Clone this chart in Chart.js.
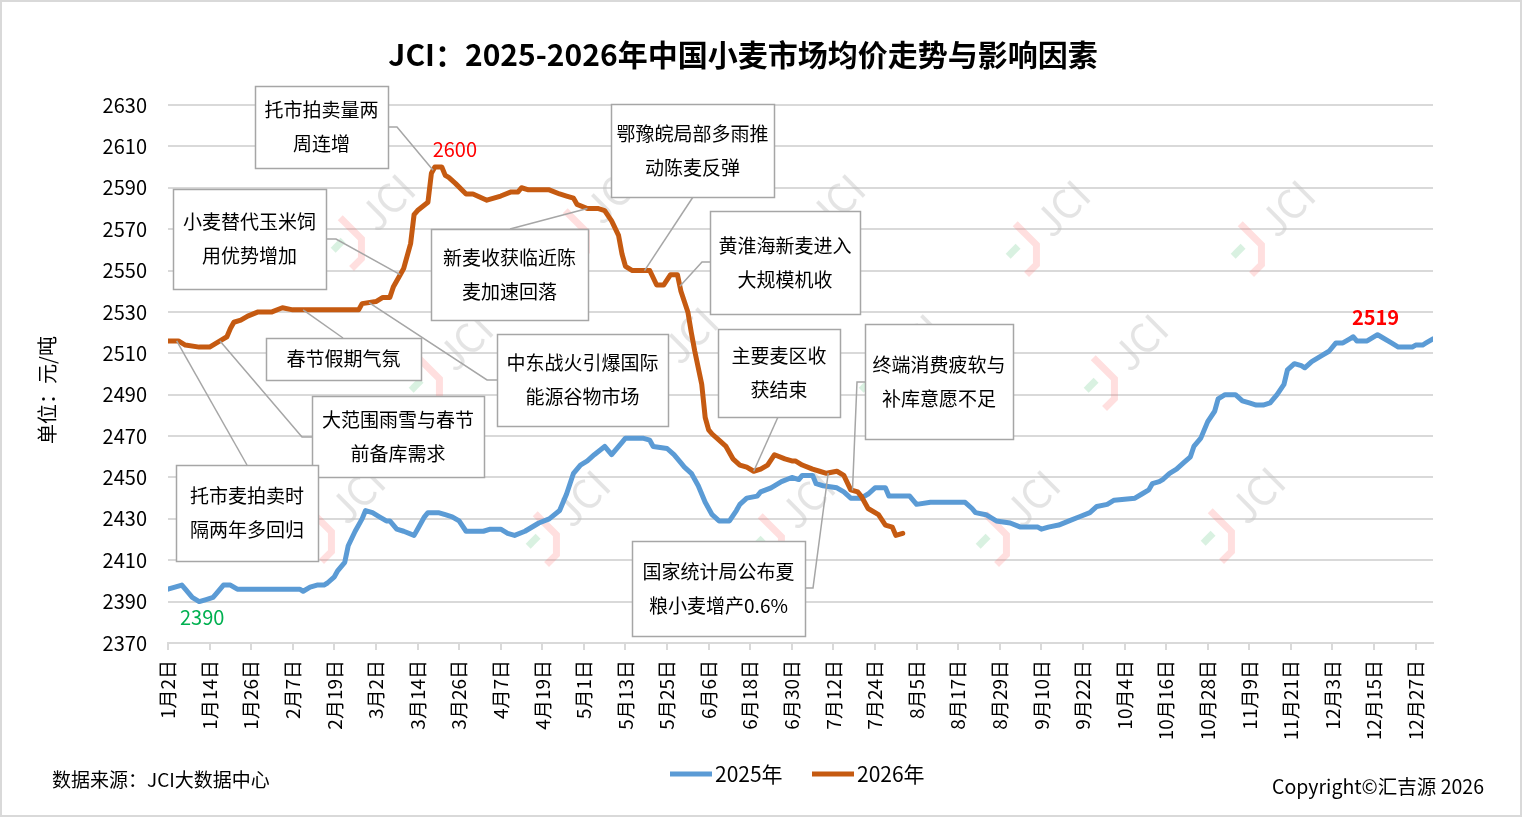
<!DOCTYPE html>
<html>
<head>
<meta charset="utf-8">
<script src="https://cdn.jsdelivr.net/npm/chart.js@4.4.1/dist/chart.umd.min.js"></script>
<style>
  html, body { margin: 0; padding: 0; background: #fff; overflow: hidden; }
  canvas { display: block; }
</style>
</head>
<body>
<canvas id="wheatChart" width="1522" height="817"></canvas>
<script>
// x axis: day number counted from 1月2日, a label every 12 days
const tickLabels = ['1月2日','1月14日','1月26日','2月7日','2月19日','3月2日','3月14日','3月26日','4月7日','4月19日',
  '5月1日','5月13日','5月25日','6月6日','6月18日','6月30日','7月12日','7月24日','8月5日','8月17日',
  '8月29日','9月10日','9月22日','10月4日','10月16日','10月28日','11月9日','11月21日','12月3日','12月15日','12月27日'];
const yTicks = [2370,2390,2410,2430,2450,2470,2490,2510,2530,2550,2570,2590,2610,2630];

// 2025年 (day, 元/吨)
const days2025 = [0,2,4,5,7,9,11,13,14,16, 18,20,38,39,41,43,45,46,48,49,
  51,52,54,56,57,59,61,63,64,66, 68,71,72,74,75,78,80,82,84,86,
  91,93,96,98,100,103,107,110,113,115, 117,119,121,123,126,128,131,132,137,139,
  140,144,146,148,149,151,153,155,157,159, 162,164,165,167,170,171,174,177,180,182,
  183,186,187,189,193,195,197,200,202,204, 207,208,214,216,220,230,232,233,236,239,
  243,246,251,252,254,257,260,263,266,268, 271,273,279,281,283,284,286,287,289,291,
  293,295,296,298,300,302,303,305,308,310, 312,314,316,318,320,322,323,325,327,328,
  330,333,335,337,339,341,342,343,346,349, 350,353,355,356,359,360,362,363,365];
const price2025 = [2396,2397,2398,2396,2392,2390,2391,2392,2394,2398, 2398,2396,2396,2395,2397,2398,2398,2399,2402,2405,
  2409,2417,2424,2430,2434,2433,2431,2429,2429,2425, 2424,2422,2425,2431,2433,2433,2432,2431,2429,2424,
  2424,2425,2425,2423,2422,2424,2428,2430,2434,2442, 2452,2456,2458,2461,2465,2461,2467,2469,2469,2468,
  2465,2464,2461,2457,2455,2452,2446,2438,2432,2429, 2429,2434,2437,2440,2441,2443,2445,2448,2450,2449,
  2451,2451,2447,2446,2445,2443,2440,2440,2442,2445, 2445,2441,2441,2437,2438,2438,2435,2433,2432,2429,
  2428,2426,2426,2425,2426,2427,2429,2431,2433,2436, 2437,2439,2440,2442,2444,2447,2448,2449,2452,2454,
  2457,2460,2465,2469,2477,2482,2488,2490,2490,2487, 2486,2485,2485,2486,2490,2495,2502,2505,2504,2503,
  2506,2509,2511,2515,2515,2517,2518,2516,2516,2519, 2518,2515,2513,2513,2513,2514,2514,2515,2517];

// 2026年 (day, 元/吨)
const days2026 = [0,3,5,9,12,15,17,18,19,21, 23,26,30,33,36,55,56,60,62,64,
  65,67,68,70,71,72,75,76,77,79, 80,81,83,86,88,92,94,96,99,101,
  102,104,110,113,115,117,118,121,124,126, 128,130,131,132,134,137,139,141,143,145,
  147,148,150,151,152,154,155,156,157,159, 161,163,165,167,169,171,173,175,178,180,
  181,183,186,188,190,193,195,197,199,200, 202,205,207,209,210,212];
const price2026 = [2516,2516,2514,2513,2513,2516,2518,2522,2525,2526, 2528,2530,2530,2532,2531,2531,2534,2535,2537,2537,
  2542,2548,2551,2563,2577,2579,2583,2597,2600,2600, 2596,2595,2592,2587,2587,2584,2585,2586,2588,2588,
  2590,2589,2589,2587,2586,2585,2582,2580,2580,2579, 2574,2567,2558,2552,2550,2550,2550,2543,2543,2548,
  2548,2540,2530,2520,2511,2495,2479,2473,2471,2468, 2465,2459,2456,2455,2453,2454,2456,2461,2459,2458,
  2458,2456,2454,2453,2452,2453,2451,2444,2443,2441, 2435,2432,2427,2426,2422,2423];

// callouts on the 2026 line: text, box [x,y,w,h], leader start points, anchor day
const notes = [
  {text:['托市拍卖量两','周连增'], box:[255,86,133,82], path:[[388,127],[397,127]], day:76.5},
  {text:['鄂豫皖局部多雨推','动陈麦反弹'], box:[611,104,163,93], path:[[693,197]], day:137.5},
  {text:['小麦替代玉米饲','用优势增加'], box:[173,189,153,100], path:[[326,239],[336,239]], day:67},
  {text:['新麦收获临近陈','麦加速回落'], box:[431,229,157,91], path:[[510,229]], day:121},
  {text:['黄淮海新麦进入','大规模机收'], box:[710,211,150,103], path:[[710,262],[702,262]], day:147.7},
  {text:['春节假期气氛'], box:[266,338,155,42], path:[[343,338]], day:39},
  {text:['中东战火引爆国际','能源谷物市场'], box:[497,334,171,92], path:[[497,380],[487,380]], day:58},
  {text:['大范围雨雪与春节','前备库需求'], box:[312,396,172,81], path:[[312,437],[302,437]], day:15},
  {text:['托市麦拍卖时','隔两年多回归'], box:[176,465,142,96], path:[[247,465]], day:2.5},
  {text:['主要麦区收','获结束'], box:[718,329,122,88], path:[[778,417]], day:169},
  {text:['终端消费疲软与','补库意愿不足'], box:[865,324,148,115], path:[[865,382],[857,382]], day:197.5},
  {text:['国家统计局公布夏','粮小麦增产0.6%'], box:[632,541,173,95], path:[[805,588],[813,588]], day:190.5}
];

const FONT = '"Noto Sans CJK SC", "Noto Sans", sans-serif';
const BLUE = '#5B9BD5';
const ORANGE = '#C55A11';

function toPoints(days, vals){ return days.map((d, i) => ({x: d, y: vals[i]})); }

function valueAt(days, vals, d){
  for (let i = 1; i < days.length; i++) {
    if (days[i] >= d) {
      const t = (d - days[i-1]) / (days[i] - days[i-1]);
      return vals[i-1] + t * (vals[i] - vals[i-1]);
    }
  }
  return vals[vals.length - 1];
}

function drawWatermark(ctx, x, y){
  ctx.save();
  ctx.translate(x, y);
  ctx.rotate(-Math.PI / 4);
  ctx.font = '40px ' + FONT;
  ctx.fillStyle = 'rgba(190,190,190,0.42)';
  ctx.textAlign = 'center';
  ctx.textBaseline = 'middle';
  ctx.fillText('JCI', 14, 0);
  ctx.lineWidth = 7;
  ctx.strokeStyle = 'rgba(255,110,110,0.22)';
  ctx.beginPath();
  ctx.moveTo(-30, -22); ctx.lineTo(-30, 8); ctx.lineTo(-44, 22); ctx.lineTo(-58, 22);
  ctx.stroke();
  ctx.strokeStyle = 'rgba(80,190,120,0.22)';
  ctx.beginPath();
  ctx.moveTo(-58, -4); ctx.lineTo(-44, -4);
  ctx.stroke();
  ctx.restore();
}

const extras = {
  id: 'extras',
  beforeDraw(chart){
    const c = chart.ctx;
    c.save();
    c.fillStyle = '#fff';
    c.fillRect(0, 0, chart.width, chart.height);
    c.restore();
  },
  beforeDatasetsDraw(chart){
    const c = chart.ctx;
    const marks = [[377,212],[602,205],[827,212],[1052,218],[1277,218],
                   [455,352],[680,345],[905,352],[1130,352],
                   [347,505],[572,508],[797,510],[1022,508],[1247,505]];
    marks.forEach(m => drawWatermark(c, m[0], m[1]));
  },
  afterDatasetsDraw(chart){
    const c = chart.ctx;
    const xs = chart.scales.x, ys = chart.scales.y;

    // value labels on the extremes
    const blue = chart.getDatasetMeta(0).data;
    const orange = chart.getDatasetMeta(1).data;
    const iMin = price2025.indexOf(Math.min(...price2025));
    const iMax25 = price2025.indexOf(Math.max(...price2025));
    const iMax26 = price2026.indexOf(Math.max(...price2026));
    c.save();
    c.textAlign = 'center';
    c.textBaseline = 'middle';
    c.font = '20px ' + FONT;
    c.fillStyle = '#00B050';
    c.fillText(String(price2025[iMin]), blue[iMin].x + 3, blue[iMin].y + 16);
    c.fillStyle = '#FF0000';
    c.fillText(String(price2026[iMax26]), orange[iMax26].x + 20, orange[iMax26].y - 18);
    c.font = 'bold 20px ' + FONT;
    c.fillText(String(price2025[iMax25]), blue[iMax25].x - 2, blue[iMax25].y - 17);
    c.restore();

    // callouts
    c.save();
    notes.forEach(n => {
      const ax = xs.getPixelForValue(n.day);
      const ay = ys.getPixelForValue(valueAt(days2026, price2026, n.day));
      c.strokeStyle = '#A6A6A6';
      c.lineWidth = 1.5;
      c.beginPath();
      c.moveTo(n.path[0][0], n.path[0][1]);
      for (let k = 1; k < n.path.length; k++) c.lineTo(n.path[k][0], n.path[k][1]);
      c.lineTo(ax, ay);
      c.stroke();
    });
    notes.forEach(n => {
      const [bx, by, bw, bh] = n.box;
      c.fillStyle = '#fff';
      c.fillRect(bx, by, bw, bh);
      c.strokeStyle = '#A6A6A6';
      c.lineWidth = 1.5;
      c.strokeRect(bx + 0.5, by + 0.5, bw, bh);
      c.fillStyle = '#000';
      c.font = '19px ' + FONT;
      c.textAlign = 'center';
      c.textBaseline = 'middle';
      const cy = by + bh / 2;
      const lh = 34;
      n.text.forEach((t, k) => {
        c.fillText(t, bx + bw / 2, cy + (k - (n.text.length - 1) / 2) * lh);
      });
    });
    c.restore();
  },
  afterDraw(chart){
    const c = chart.ctx;
    c.save();
    // title
    c.fillStyle = '#000';
    c.textAlign = 'center';
    c.textBaseline = 'middle';
    c.font = 'bold 30px ' + FONT;
    c.fillText('JCI：2025-2026年中国小麦市场均价走势与影响因素', 743, 55);

    // y axis title
    c.save();
    c.translate(47, 390);
    c.rotate(-Math.PI / 2);
    c.font = '20px ' + FONT;
    c.fillText('单位：元/吨', 0, 0);
    c.restore();

    // legend
    const items = chart.data.datasets;
    const legendX = [670, 812];
    items.forEach((ds, k) => {
      const lx = legendX[k];
      c.strokeStyle = ds.borderColor;
      c.lineWidth = 5;
      c.beginPath();
      c.moveTo(lx, 774);
      c.lineTo(lx + 42, 774);
      c.stroke();
      c.fillStyle = '#000';
      c.textAlign = 'left';
      c.font = '21px ' + FONT;
      c.fillText(ds.label, lx + 45, 774);
    });

    // source and copyright
    c.font = '19px ' + FONT;
    c.textAlign = 'left';
    c.fillText('数据来源：JCI大数据中心', 52, 780);
    c.textAlign = 'right';
    c.font = '19.5px ' + FONT;
    c.fillText('Copyright©汇吉源 2026', 1484, 787);

    // outer frame
    c.strokeStyle = '#D9D9D9';
    c.lineWidth = 2;
    c.strokeRect(1, 1, chart.width - 2, chart.height - 2);
    c.restore();
  }
};

new Chart(document.getElementById('wheatChart'), {
  type: 'line',
  data: {
    datasets: [
      { label: '2025年', data: toPoints(days2025, price2025), borderColor: BLUE, backgroundColor: BLUE, order: 1 },
      { label: '2026年', data: toPoints(days2026, price2026), borderColor: ORANGE, backgroundColor: ORANGE, order: 0 }
    ]
  },
  options: {
    responsive: false,
    animation: false,
    devicePixelRatio: 1,
    layout: { padding: { top: 105, right: 89, bottom: 0, left: 0 } },
    plugins: { legend: { display: false }, tooltip: { enabled: false }, title: { display: false } },
    elements: {
      point: { radius: 0 },
      line: { tension: 0, borderWidth: 5, borderJoinStyle: 'round', borderCapStyle: 'round', fill: false }
    },
    scales: {
      x: {
        type: 'linear', min: 0, max: 365,
        afterBuildTicks: s => { s.ticks = tickLabels.map((_, i) => ({ value: i * 12 })); },
        afterFit: s => { s.height = 174; },
        ticks: {
          autoSkip: false, minRotation: 90, maxRotation: 90, padding: 10, color: '#000',
          font: { family: FONT, size: 19 },
          callback: v => tickLabels[Math.round(v / 12)]
        },
        grid: { drawOnChartArea: false, drawTicks: true, tickLength: 7, color: '#D9D9D9', lineWidth: 2 },
        border: { display: true, color: '#D9D9D9', width: 2 }
      },
      y: {
        min: 2370, max: 2630,
        afterBuildTicks: s => { s.ticks = yTicks.map(v => ({ value: v })); },
        afterFit: s => { s.width = 168; },
        ticks: { padding: 21, color: '#000', font: { family: FONT, size: 20 }, callback: v => String(v) },
        grid: { color: '#D9D9D9', lineWidth: 2, drawTicks: false },
        border: { display: false }
      }
    }
  },
  plugins: [extras]
});
</script>
</body>
</html>
